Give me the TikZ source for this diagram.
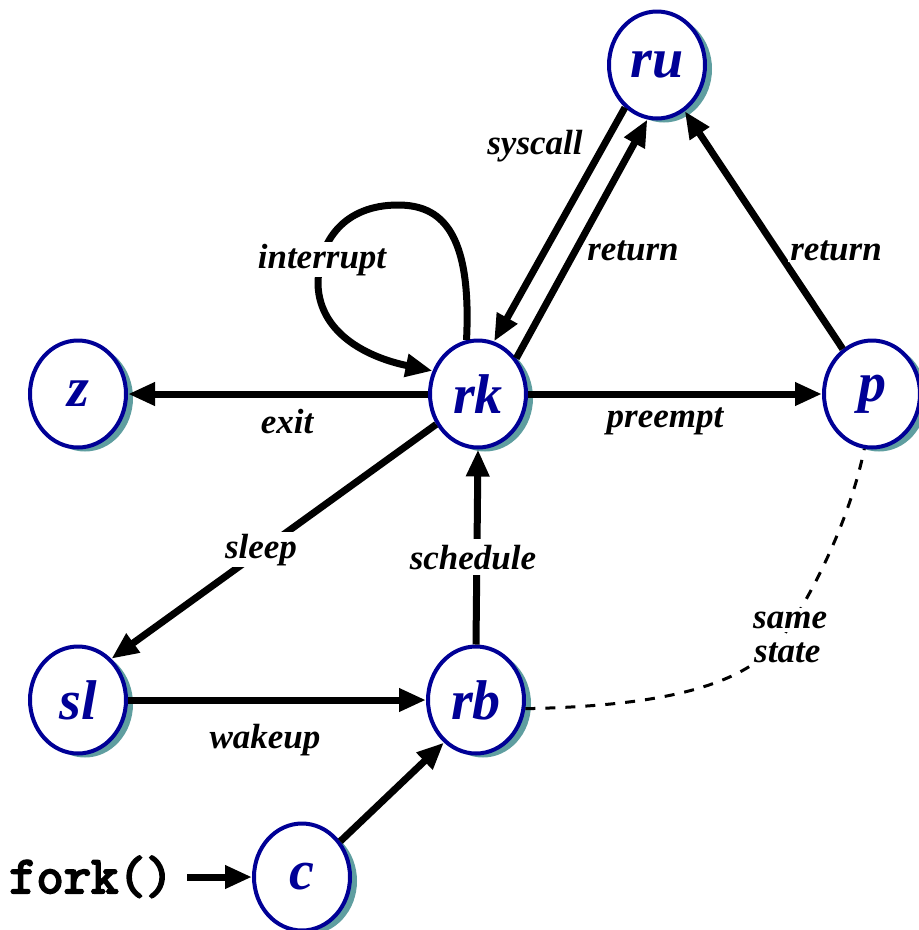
\documentclass[tikz,border=0pt]{standalone}
\usepackage{fontspec}
\setmainfont{Liberation Serif}
\newfontfamily\forkfont[FakeBold=4]{Latin Modern Mono}
\usetikzlibrary{arrows.meta,shapes.geometric,shadows}
\definecolor{nodeblue}{RGB}{0,0,150}
\definecolor{shadowc}{RGB}{95,158,160}
\begin{document}
\begin{tikzpicture}[x=1pt,y=-1pt,
  state/.style={ellipse, draw=nodeblue, line width=4pt, fill=white,
    minimum width=96pt, minimum height=107pt, inner sep=0pt, text=nodeblue,
    font=\fontsize{56}{56}\selectfont\bfseries\itshape,
    general shadow={fill=shadowc, shadow xshift=7pt, shadow yshift=-4pt}},
  lbl/.style={font=\fontsize{35}{35}\selectfont\bfseries\itshape, anchor=base, inner sep=2pt},
  wlbl/.style={lbl, fill=white},
  arr/.style={line width=7pt, -{Triangle[length=27pt,width=22pt]}},
  dashline/.style={line width=3pt, dash pattern=on 10pt off 10pt}
]
\useasboundingbox (0,0) rectangle (919,930);

% nodes
\node[state] (ru) at (657,65) {ru};
\node[state] (z) at (78,394) {z};
\node[state] (rk) at (478,394) {rk};
\node[state] (p) at (872,394) {p};
\node[state] (sl) at (78,700) {sl};
\node[state] (rb) at (476,700) {rb};
\node[state] (c) at (302,877) {c};
\node[font=\forkfont\fontsize{53}{53}\selectfont, anchor=base west, inner sep=0pt] (fork) at (9,893) {fork()};
\coordinate (forkout) at (187,879);

% edges
\draw[arr] (rk.west) -- (z.east);
\draw[arr] (rk.east) -- (p.west);
\draw[arr] (ru.233) -- (rk.73);
\draw[arr] (rk.43) -- (ru.260);
\draw[arr] (p.123) -- (ru.301);
\draw[arr] (rk.216) -- (sl.51);
\draw[arr] (rb.north) -- (rk.south);
\draw[arr] (sl.east) -- (rb.west);
\draw[arr] (c.43) -- (rb.233);
\draw[arr] (forkout |- c.west) -- (c.west);
\draw[arr] (rk.102) .. controls (472,230) and (440,205) .. (398,205)
  .. controls (345,205) and (318,240) .. (318,285)
  .. controls (320,335) and (370,358) .. (rk.153);
\draw[dashline] (rb.350) .. controls (650,706) and (740,690) .. (780,640)
  .. controls (810,600) and (850,520) .. (p.262);

% labels
\node[lbl] (lsys) at (535,154) {syscall};
\node[lbl] (lret1) at (633,260) {return};
\node[wlbl] (lret2) at (836,260) {return};
\node[wlbl] (lint) at (322,268) {interrupt};
\node[lbl] (lexit) at (287,433) {exit};
\node[lbl] (lpre) at (665,427) {preempt};
\node[wlbl] (lsleep) at (261,558) {sleep};
\node[wlbl, inner sep=6pt] (lsched) at (473,569) {schedule};
\node[lbl] (lwake) at (265,748) {wakeup};
\node[wlbl, anchor=base west, inner sep=4pt] (lsame) at (749,628) {same};
\node[wlbl, anchor=base west, inner sep=4pt] (lstate) at (750,662) {state};
\end{tikzpicture}
\end{document}
